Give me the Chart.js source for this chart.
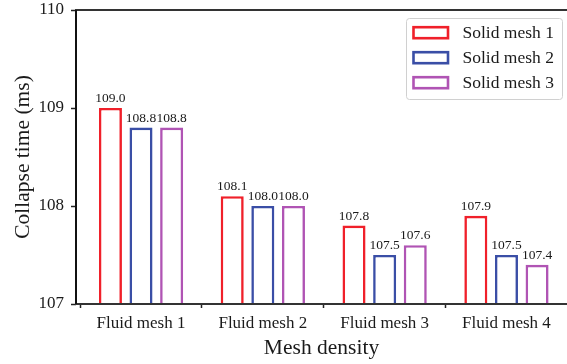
<!DOCTYPE html>
<html>
<head>
<meta charset="utf-8">
<script src="https://cdn.jsdelivr.net/npm/chart.js@4/dist/chart.umd.min.js"></script>
<style>
  html, body { margin: 0; padding: 0; background: #fff; overflow: hidden; }
  canvas { display: block; }
</style>
</head>
<body>
<canvas id="chart" width="567" height="364"></canvas>
<script>
// Collapse time per fluid mesh, one series per solid mesh
const categories = ['Fluid mesh 1', 'Fluid mesh 2', 'Fluid mesh 3', 'Fluid mesh 4'];
const seriesNames = ['Solid mesh 1', 'Solid mesh 2', 'Solid mesh 3'];
const solidMesh1 = [109.0, 108.1, 107.8, 107.9];
const solidMesh2 = [108.8, 108.0, 107.5, 107.5];
const solidMesh3 = [108.8, 108.0, 107.6, 107.4];
const yTicks = [107, 108, 109, 110];

const seriesColors = ['#f0202a', '#3a4ea6', '#b054b4'];
const FONT = "'Liberation Serif', 'Times New Roman', serif";
const INK = '#1a1a1a';

const seriesValues = [solidMesh1, solidMesh2, solidMesh3];
const datasets = seriesValues.map((vals, i) => ({
  label: seriesNames[i],
  data: vals.map((v, k) => ({ x: k, y: v })),
  backgroundColor: '#ffffff',
  borderColor: seriesColors[i],
  borderWidth: 2.6,
  borderSkipped: 'start',
  categoryPercentage: 0.754,
  barPercentage: 0.752
}));

// value printed above every bar
const valueLabels = {
  id: 'valueLabels',
  afterDatasetsDraw(chart) {
    const ctx = chart.ctx;
    ctx.save();
    ctx.font = '13.5px ' + FONT;
    ctx.fillStyle = INK;
    ctx.textAlign = 'center';
    ctx.textBaseline = 'alphabetic';
    chart.data.datasets.forEach((ds, i) => {
      chart.getDatasetMeta(i).data.forEach((bar, k) => {
        ctx.fillText(ds.data[k].y.toFixed(1), bar.x, bar.y - 6);
      });
    });
    ctx.restore();
  }
};

// plot frame (left, bottom, top) drawn over the bars
const frame = {
  id: 'frame',
  afterDatasetsDraw(chart) {
    const { ctx, chartArea: a } = chart;
    ctx.save();
    ctx.lineWidth = 2;
    ctx.strokeStyle = '#333';
    ctx.beginPath();
    ctx.moveTo(a.left - 1, a.top);
    ctx.lineTo(a.right, a.top);
    ctx.moveTo(a.left - 1, a.bottom);
    ctx.lineTo(a.right, a.bottom);
    ctx.stroke();
    ctx.strokeStyle = '#111';
    ctx.beginPath();
    ctx.moveTo(a.left, a.top);
    ctx.lineTo(a.left, a.bottom);
    ctx.stroke();
    ctx.restore();
  }
};

// boxed legend in the upper right corner of the plot
const boxLegend = {
  id: 'boxLegend',
  afterDraw(chart) {
    const ctx = chart.ctx;
    const x0 = 406, y0 = 18, w = 156, h = 81, r = 3;
    ctx.save();
    ctx.fillStyle = 'rgba(255,255,255,0.85)';
    ctx.strokeStyle = '#d0d0d0';
    ctx.lineWidth = 1;
    ctx.beginPath();
    ctx.roundRect(x0 + 0.5, y0 + 0.5, w, h, r);
    ctx.fill();
    ctx.stroke();
    ctx.font = '17.5px ' + FONT;
    ctx.textAlign = 'left';
    ctx.textBaseline = 'middle';
    chart.data.datasets.forEach((ds, i) => {
      const cy = 32.7 + i * 25;
      ctx.fillStyle = '#ffffff';
      ctx.strokeStyle = ds.borderColor;
      ctx.lineWidth = 2.6;
      ctx.fillRect(413.5, cy - 5.5, 34.5, 11);
      ctx.strokeRect(413.5, cy - 5.5, 34.5, 11);
      ctx.fillStyle = INK;
      ctx.fillText(ds.label, 462.5, cy + 0.5);
    });
    ctx.restore();
  }
};

new Chart(document.getElementById('chart'), {
  type: 'bar',
  data: { datasets },
  plugins: [frame, valueLabels, boxLegend],
  options: {
    responsive: false,
    animation: false,
    layout: { padding: { top: 10, left: 0, right: 0, bottom: 0 } },
    plugins: { legend: { display: false }, tooltip: { enabled: false } },
    scales: {
      x: {
        type: 'linear',
        min: -0.5337,
        max: 3.497,
        offset: false,
        afterFit(scale) {
          scale.height = 60;
          scale.paddingLeft = 0;
          scale.paddingRight = 0;
        },
        afterBuildTicks(scale) { scale.ticks = categories.map((_, i) => ({ value: i })); },
        ticks: {
          font: { family: FONT, size: 17 },
          color: INK,
          padding: 5,
          maxRotation: 0,
          autoSkip: false,
          callback: (v) => categories[v]
        },
        grid: {
          drawOnChartArea: false,
          drawTicks: true,
          tickLength: 4,
          tickColor: '#222',
          tickWidth: 1.5
        },
        border: { display: false },
        title: {
          display: true,
          text: 'Mesh density',
          font: { family: FONT, size: 21.5 },
          color: INK,
          padding: { top: 0, bottom: 3 }
        }
      },
      y: {
        type: 'linear',
        min: 107,
        max: 110,
        afterFit(scale) {
          scale.width = 76;
          scale.paddingTop = 0;
          scale.paddingBottom = 0;
        },
        afterBuildTicks(scale) { scale.ticks = yTicks.map(v => ({ value: v })); },
        ticks: {
          font: { family: FONT, size: 17, lineHeight: 1 },
          color: INK,
          padding: 7,
          callback: (v) => String(v)
        },
        grid: {
          drawOnChartArea: false,
          drawTicks: true,
          tickLength: 5,
          tickColor: '#222',
          tickWidth: 1.5
        },
        border: { display: false },
        title: {
          display: true,
          text: 'Collapse time (ms)',
          font: { family: FONT, size: 21.5 },
          color: INK,
          padding: { top: 10, bottom: 0 }
        }
      }
    }
  }
});
</script>
</body>
</html>
